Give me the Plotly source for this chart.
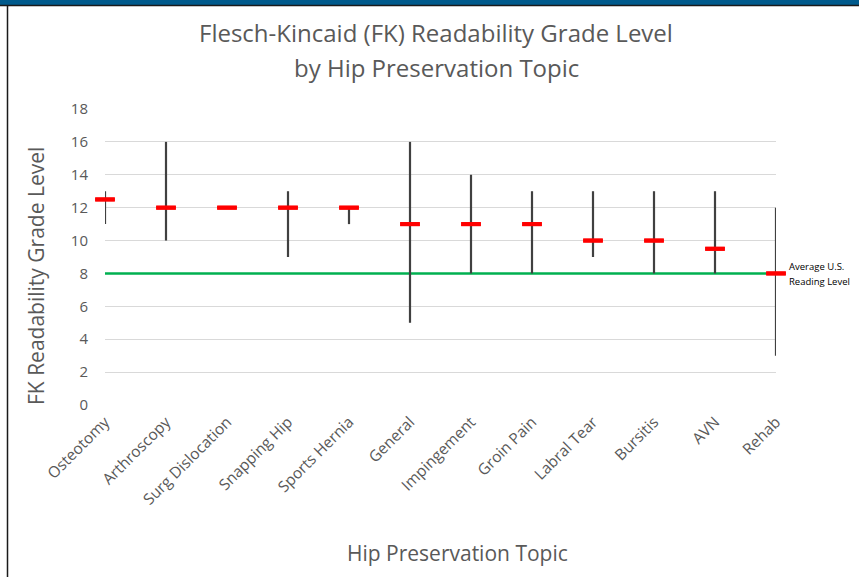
import plotly.graph_objects as go

topics = ["Osteotomy", "Arthroscopy", "Surg Dislocation", "Snapping Hip", "Sports Hernia",
          "General", "Impingement", "Groin Pain", "Labral Tear", "Bursitis", "AVN", "Rehab"]
grade_min = [11, 10, 12, 9, 11, 5, 8, 8, 9, 8, 8, 3]
grade_max = [13, 16, 12, 13, 12, 16, 14, 13, 13, 13, 13, 12]
grade_median = [12.5, 12, 12, 12, 12, 11, 11, 11, 10, 10, 9.5, 8]
avg_us_reading_level = 8
y_ticks = [0, 2, 4, 6, 8, 10, 12, 14, 16, 18]

W, H = 859, 577
L, R, T, B = 105, 776, 109, 405

def px(x):
    return (x - L) / (R - L)

def py(y):
    return (B - y) / (B - T)

xs = list(range(len(topics)))
FONT = "Open Sans"

fig = go.Figure()

# average reading level line
fig.add_trace(go.Scatter(
    x=[xs[0], xs[-1]], y=[avg_us_reading_level, avg_us_reading_level],
    mode="lines", line=dict(color="#00b050", width=2.5), hoverinfo="skip", showlegend=False,
    cliponaxis=False))

# ranges (min-max) with median dash
fig.add_trace(go.Scatter(
    x=xs, y=grade_median, mode="markers",
    marker=dict(symbol="line-ew", size=14, line=dict(color="#ff0000", width=4)),
    error_y=dict(type="data", symmetric=False,
                 array=[mx - md for mx, md in zip(grade_max, grade_median)],
                 arrayminus=[md - mn for md, mn in zip(grade_median, grade_min)],
                 color="#404040", thickness=2.2, width=0),
    showlegend=False, cliponaxis=False))

# redraw markers on top of error bars
fig.add_trace(go.Scatter(
    x=xs, y=grade_median, mode="markers",
    marker=dict(symbol="line-ew", size=14, line=dict(color="#ff0000", width=4)),
    showlegend=False, cliponaxis=False))

shapes = [
    dict(type="rect", xref="paper", yref="paper", x0=px(0), x1=px(W), y0=py(0), y1=py(5),
         fillcolor="#005a8c", line=dict(width=0), layer="above"),
    dict(type="line", xref="paper", yref="paper", x0=px(0), x1=px(W), y0=py(5.5), y1=py(5.5),
         line=dict(color="#1a1a1a", width=1.5)),
    dict(type="line", xref="paper", yref="paper", x0=px(7.5), x1=px(7.5), y0=py(5), y1=py(H),
         line=dict(color="#1a1a1a", width=1.5)),
]

title_font = dict(family=FONT, size=24, color="#595959")
annotations = [
    dict(text="Flesch-Kincaid (FK) Readability Grade Level",
         xref="paper", yref="paper", x=px(436), y=py(33), xanchor="center", yanchor="middle",
         showarrow=False, font=title_font),
    dict(text="by Hip Preservation Topic",
         xref="paper", yref="paper", x=px(436), y=py(68), xanchor="center", yanchor="middle",
         showarrow=False, font=title_font),
    dict(text="FK Readability Grade Level", xref="paper", yref="paper",
         x=px(36), y=py(276), xanchor="center", yanchor="middle", textangle=-90,
         showarrow=False, font=dict(family=FONT, size=21, color="#595959")),
    dict(text="Hip Preservation Topic", xref="paper", yref="paper",
         x=px(457), y=py(553), xanchor="center", yanchor="middle",
         showarrow=False, font=dict(family=FONT, size=21, color="#595959")),
    dict(text="Average U.S.", xref="paper", yref="paper",
         x=px(787), y=py(266), xanchor="left", yanchor="middle", align="left",
         showarrow=False, font=dict(family=FONT, size=9.5, color="#000000")),
    dict(text="Reading Level", xref="paper", yref="paper",
         x=px(787), y=py(281), xanchor="left", yanchor="middle", align="left",
         showarrow=False, font=dict(family=FONT, size=9.5, color="#000000")),
]

fig.update_layout(
    width=W, height=H,
    margin=dict(l=L, r=W - R, t=T, b=H - B, pad=0),
    paper_bgcolor="white", plot_bgcolor="white",
    shapes=shapes, annotations=annotations,
    xaxis=dict(range=[0, len(topics) - 1], tickmode="array", tickvals=xs, ticktext=topics,
               tickangle=-45, showgrid=False, zeroline=False, showline=False,
               tickfont=dict(family=FONT, size=15.5, color="#595959"), ticks="",
               ticklabelstandoff=4),
    yaxis=dict(range=[0, 18], tickmode="array", tickvals=y_ticks, showgrid=True,
               gridcolor="#d9d9d9", gridwidth=1, zeroline=False, showline=False,
               tickfont=dict(family=FONT, size=15, color="#595959"), ticks="",
               ticklabelstandoff=16),
)

fig.write_html("out.html", config={"displayModeBar": False},
               post_script="document.body.style.margin='0';")
